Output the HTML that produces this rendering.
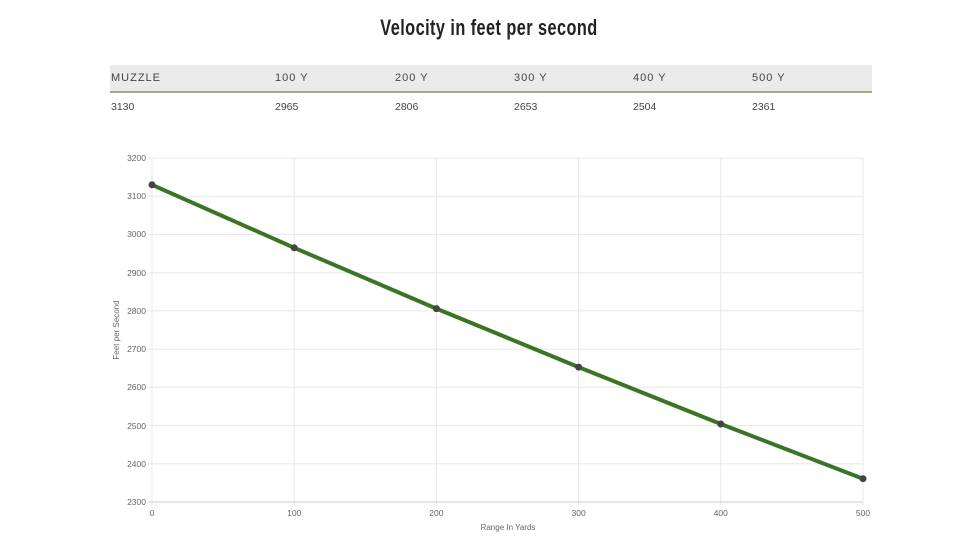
<!DOCTYPE html>
<html><head><style>
body{margin:0;width:978px;height:550px;background:#fff;overflow:hidden;position:relative;font-family:"Liberation Sans",sans-serif}
.t{position:absolute;top:15px;left:0;width:978px;text-align:center;font-family:"Liberation Sans Narrow","Liberation Sans",sans-serif;font-weight:bold;font-size:22px;color:#222;letter-spacing:0.6px;transform:scaleX(0.74);transform-origin:489px 0}
.hd{position:absolute;left:110px;top:65px;width:762px;height:26px;background:#ebebeb;border-bottom:2px solid #a9a58e}
.c{position:absolute;font-size:11px;color:#444;letter-spacing:1px}
.v{position:absolute;font-size:10.5px;color:#444}
</style></head><body>
<div class="t">Velocity in feet per second</div>
<div class="hd"></div>
<div class="c" style="left:111px;top:72px">MUZZLE</div>
<div class="c" style="left:275px;top:72px">100 Y</div>
<div class="c" style="left:395px;top:72px">200 Y</div>
<div class="c" style="left:514px;top:72px">300 Y</div>
<div class="c" style="left:633px;top:72px">400 Y</div>
<div class="c" style="left:752px;top:72px">500 Y</div>
<div class="v" style="left:111px;top:101px">3130</div>
<div class="v" style="left:275px;top:101px">2965</div>
<div class="v" style="left:395px;top:101px">2806</div>
<div class="v" style="left:514px;top:101px">2653</div>
<div class="v" style="left:633px;top:101px">2504</div>
<div class="v" style="left:752px;top:101px">2361</div>
<svg width="978" height="550" style="position:absolute;left:0;top:0" font-family="Liberation Sans, sans-serif">
<g stroke="#e8e8e8" stroke-width="1">
<line x1="148" y1="158" x2="863" y2="158"/><line x1="148" y1="196.2" x2="863" y2="196.2"/><line x1="148" y1="234.4" x2="863" y2="234.4"/><line x1="148" y1="272.7" x2="863" y2="272.7"/><line x1="148" y1="310.9" x2="863" y2="310.9"/><line x1="148" y1="349.1" x2="863" y2="349.1"/><line x1="148" y1="387.3" x2="863" y2="387.3"/><line x1="148" y1="425.5" x2="863" y2="425.5"/><line x1="148" y1="463.8" x2="863" y2="463.8"/>
<line x1="152" y1="158" x2="152" y2="506"/><line x1="294.2" y1="158" x2="294.2" y2="506"/><line x1="436.4" y1="158" x2="436.4" y2="506"/><line x1="578.6" y1="158" x2="578.6" y2="506"/><line x1="720.8" y1="158" x2="720.8" y2="506"/><line x1="863" y1="158" x2="863" y2="506"/>
</g>
<line x1="148" y1="502" x2="863" y2="502" stroke="#ccc"/>
<g font-size="8.5" fill="#666" text-anchor="end">
<text x="146" y="161">3200</text><text x="146" y="199">3100</text><text x="146" y="237">3000</text><text x="146" y="276">2900</text><text x="146" y="314">2800</text><text x="146" y="352">2700</text><text x="146" y="390">2600</text><text x="146" y="429">2500</text><text x="146" y="467">2400</text><text x="146" y="505">2300</text>
</g>
<g font-size="8.5" fill="#666" text-anchor="middle">
<text x="152" y="516">0</text><text x="294.2" y="516">100</text><text x="436.4" y="516">200</text><text x="578.6" y="516">300</text><text x="720.8" y="516">400</text><text x="863" y="516">500</text>
<text x="508" y="530" font-size="8">Range In Yards</text>
<text transform="translate(119,330) rotate(-90)" font-size="8">Feet per Second</text>
</g>
<polyline points="152,184.8 294.2,247.8 436.4,308.6 578.6,367.1 720.8,424 863,478.7" fill="none" stroke="#3a7526" stroke-width="4"/>
<g fill="#444"><circle cx="152" cy="184.8" r="3.5"/><circle cx="294.2" cy="247.8" r="3.5"/><circle cx="436.4" cy="308.6" r="3.5"/><circle cx="578.6" cy="367.1" r="3.5"/><circle cx="720.8" cy="424" r="3.5"/><circle cx="863" cy="478.7" r="3.5"/></g>
</svg>
</body></html>
